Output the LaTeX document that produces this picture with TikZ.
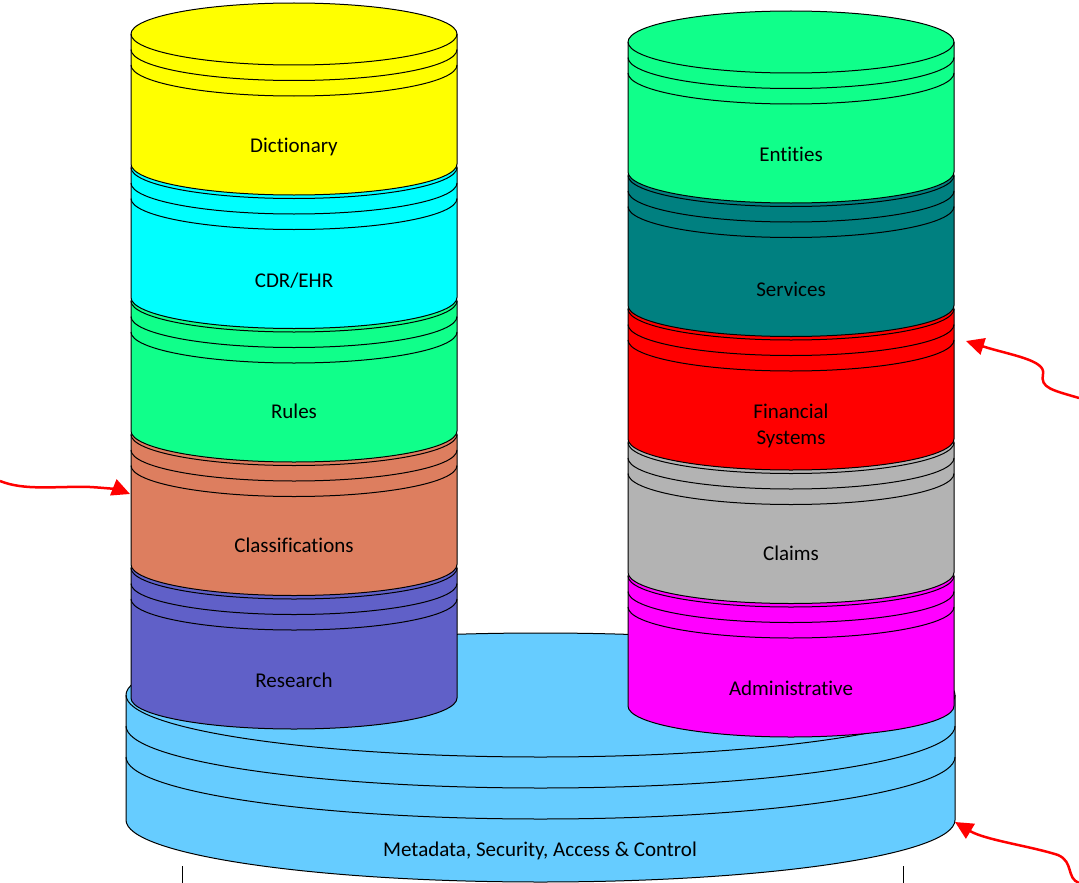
\documentclass[tikz,border=0pt]{standalone}
\usepackage{fontspec}
\setmainfont{Carlito}[Ligatures=NoCommon, Contextuals=NoAlternate]
\usetikzlibrary{arrows.meta}

\definecolor{dictcol}{RGB}{255,255,0}
\definecolor{cdrcol}{RGB}{0,255,255}
\definecolor{rulecol}{RGB}{16,255,138}
\definecolor{classcol}{RGB}{221,126,95}
\definecolor{rescol}{RGB}{96,96,200}
\definecolor{servcol}{RGB}{0,128,128}
\definecolor{fincol}{RGB}{255,0,0}
\definecolor{claimcol}{RGB}{179,179,179}
\definecolor{admincol}{RGB}{255,0,255}
\definecolor{basecol}{RGB}{102,204,255}

% disk layer: #1 cx, #2 cy of top, #3 rx, #4 ry, #5 body height, #6 fill
\newcommand{\diskpart}[6]{%
  \filldraw[fill=#6, draw=black, line width=1pt]
    (#1-#3,#2) arc[start angle=180, end angle=360, x radius=#3, y radius=#4]
    -- ++(0,#5) arc[start angle=0, end angle=180, x radius=#3, y radius=#4] -- cycle;
  \foreach \k in {0,0.5,1}
    \draw[line width=1pt] (#1+#3,#2+\k*#4) arc[start angle=0, end angle=180, x radius=#3, y radius=#4];
}

\begin{document}
\begin{tikzpicture}[x=1pt, y=-1pt,
    lbl/.style={font=\fontsize{21}{26}\selectfont, align=center},
    callout/.style={draw=red, line width=2.5pt, -{Triangle[length=18pt,width=17pt]}}]
\useasboundingbox (0,0) rectangle (1079,883);

% base
\diskpart{540.5}{695}{414.5}{62}{125}{basecol}

% left stack
\diskpart{294}{568}{163}{31}{130}{rescol}
\diskpart{294}{434.5}{163}{31}{130}{classcol}
\diskpart{294}{301}{163}{31}{130}{rulecol}
\diskpart{294}{167.5}{163}{31}{130}{cdrcol}
\diskpart{294}{34}{163}{31}{130}{dictcol}

% right stack
\diskpart{791}{576}{163}{31}{130}{admincol}
\diskpart{791}{442.5}{163}{31}{130}{claimcol}
\diskpart{791}{309}{163}{31}{130}{fincol}
\diskpart{791}{175.5}{163}{31}{130}{servcol}
\diskpart{791}{42}{163}{31}{130}{rulecol}

\node[lbl] (dict) at (294,147) {Dictionary};
\node[lbl] (cdr) at (294,281) {CDR/EHR};
\node[lbl] (rules) at (294,411) {Rules};
\node[lbl] (classif) at (294,545) {Classifications};
\node[lbl] (research) at (294,680) {Research};
\node[lbl] (entities) at (791,154) {Entities};
\node[lbl] (services) at (791,289) {Services};
\node[lbl] (financial) at (791,426) {Financial\\Systems};
\node[lbl] (claims) at (791,553) {Claims};
\node[lbl] (admin) at (791,688) {Administrative};
\node[lbl] (meta) at (540,851) {Metadata, Security, Access \& Control};

% ticks
\draw[line width=1pt] (182,866) -- (182,883);
\draw[line width=1pt] (903,866) -- (903,883);

% callouts
\coordinate (lsrc) at (0,481);
\coordinate (ltip) at (130,494);
\coordinate (rsrc) at (1079,398);
\coordinate (rtip) at (966,341);
\coordinate (bsrc) at (1079,883);
\coordinate (btip) at (955,822);
\draw[callout] (lsrc) .. controls (25,491) and (55,486) .. (90,487) .. controls (108,488) and (120,490) .. (ltip);
\draw[callout] (rsrc) .. controls (1052,390) and (1040,388) .. (1043,374) .. controls (1046,360) and (1010,355) .. (rtip);
\draw[callout] (bsrc) .. controls (1066,878) and (1074,862) .. (1058,855) .. controls (1030,846) and (985,840) .. (btip);
\end{tikzpicture}
\end{document}
